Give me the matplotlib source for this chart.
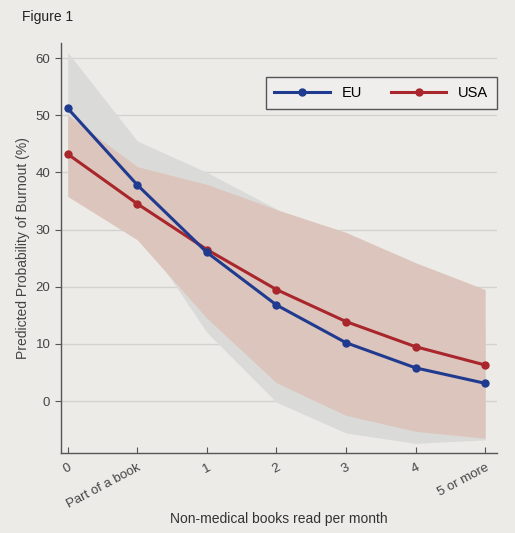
import matplotlib
matplotlib.use("Agg")
import matplotlib.pyplot as plt

plt.rcParams['font.family'] = ['Liberation Sans', 'DejaVu Sans']

# categories on the x axis
categories = ['0', 'Part of a book', '1', '2', '3', '4', '5 or more']

# predicted probability (%) and confidence bands
eu = [51.2, 37.8, 26.0, 16.8, 10.2, 5.8, 3.1]
eu_low = [41.2, 30.1, 12.0, -0.2, -5.6, -7.4, -6.8]
eu_high = [61.0, 45.5, 40.0, 33.6, 26.0, 19.0, 13.0]

usa = [43.2, 34.5, 26.5, 19.5, 13.9, 9.5, 6.3]
usa_low = [35.8, 28.2, 14.5, 3.2, -2.5, -5.3, -6.5]
usa_high = [50.0, 41.0, 37.9, 33.5, 29.5, 24.2, 19.5]

yticks = [0, 10, 20, 30, 40, 50, 60]

bg = '#ecebe8'
fig = plt.figure(figsize=(5.15, 5.33), dpi=100, facecolor=bg)
ax = fig.add_axes([0.118, 0.150, 0.847, 0.769], facecolor=bg)

x = list(range(len(categories)))

ax.fill_between(x, eu_low, eu_high, color='#dadad8', lw=0, zorder=1)
ax.fill_between(x, usa_low, usa_high, color='#dcc5bc', lw=0, zorder=2)

ax.plot(x, eu, color='#1f3a8f', lw=2.2, marker='o', ms=5, label='EU', zorder=4)
ax.plot(x, usa, color='#a8262c', lw=2.2, marker='o', ms=5, label='USA', zorder=3)

ax.set_xlim(-0.1, 6.17)
ax.set_ylim(-9.1, 62.6)
ax.set_yticks(yticks)
ax.yaxis.grid(True, color='#d4d2ce', lw=1)
ax.set_axisbelow(True)

ax.set_xticks(x)
ax.set_xticklabels(categories, rotation=28, ha='right', rotation_mode='anchor')

for s in ['top', 'right']:
    ax.spines[s].set_visible(False)
for s in ['left', 'bottom']:
    ax.spines[s].set_color('#555555')
    ax.spines[s].set_linewidth(1)

ax.tick_params(colors='#555555', labelcolor='#444444', labelsize=9.5)
ax.tick_params(axis='x', direction='in', length=4, pad=6)
ax.tick_params(axis='y', direction='out', length=4)

ax.set_ylabel('Predicted Probability of Burnout (%)', color='#444444', fontsize=10)
ax.set_xlabel('Non-medical books read per month', color='#333333', fontsize=10, labelpad=1)

leg = ax.legend(loc='upper right', ncol=2, frameon=True, fancybox=False,
                edgecolor='#555555', facecolor='#efeeec', framealpha=1,
                fontsize=10.5, handlelength=3.8, columnspacing=2.0,
                borderpad=0.6, borderaxespad=0,
                bbox_to_anchor=(1.0, 0.917))
leg.get_frame().set_linewidth(1)

fig.text(0.043, 0.968, 'Figure 1', fontsize=10, color='#222222', va='center')

fig.savefig('out.png', dpi=100, facecolor=bg)
